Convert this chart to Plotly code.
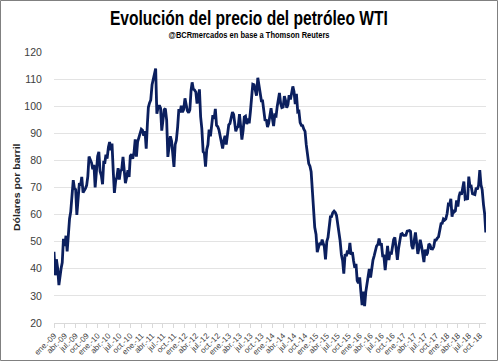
import plotly.graph_objects as go
import pandas as pd

# WTI price (USD/bbl), sampled on days 1, 11, 21 of each month
wti_2009 = [46.3, 37.6, 43.5, 40.1, 34.0, 38.9, 40.0, 42.3, 51.1, 48.4, 52.2, 46.4,
            53.2, 58.5, 61.1, 68.6, 72.7, 69.6, 69.3, 59.9, 65.4, 71.6, 70.6, 73.9,
            68.1, 69.3, 69.7, 70.8, 74.2, 81.4, 79.9, 79.1, 76.7, 78.4, 70.0, 76.7]
wti_2010 = [81.5, 83.2, 76.0, 74.4, 71.2, 79.8, 78.7, 82.1, 80.7, 84.9, 86.8, 83.7,
            86.2, 76.4, 68.0, 72.6, 73.8, 77.1, 72.9, 76.1, 76.5, 81.3, 75.7, 71.6,
            73.9, 76.4, 73.9, 81.6, 82.2, 80.6, 82.9, 87.8, 81.4, 86.8, 88.3, 89.8]
wti_2011 = [91.5, 91.1, 89.1, 90.8, 84.3, 93.6, 99.6, 101.2, 102.3, 107.9, 109.9, 112.3,
            113.9, 97.2, 99.5, 100.3, 99.3, 91.0, 94.9, 98.7, 99.1, 94.9, 81.3, 84.1,
            88.9, 87.2, 80.5, 77.6, 85.8, 87.4, 92.5, 98.9, 97.7, 100.2, 97.8, 98.7]
wti_2012 = [102.9, 100.9, 98.3, 97.6, 98.7, 105.8, 108.8, 106.3, 106.0, 105.2, 101.0, 103.1,
            106.2, 96.1, 91.7, 83.2, 82.7, 77.7, 84.0, 85.8, 91.4, 88.9, 93.4, 96.7,
            95.3, 99.0, 92.9, 92.5, 91.3, 88.7, 87.1, 84.4, 87.4, 89.1, 85.8, 88.7]
wti_2013 = [93.1, 93.6, 96.2, 97.8, 97.0, 92.8, 90.7, 92.1, 92.5, 97.1, 93.5, 87.7,
            91.0, 96.0, 96.3, 93.4, 95.4, 93.7, 97.9, 104.9, 108.1, 107.9, 106.1, 103.9,
            110.5, 107.6, 104.7, 102.0, 102.0, 99.2, 94.6, 95.1, 92.3, 93.6, 97.4, 99.3]
wti_2014 = [95.4, 92.7, 96.7, 96.4, 100.1, 102.2, 104.9, 101.0, 99.5, 99.7, 103.7, 102.1,
            99.4, 100.6, 104.1, 102.5, 104.4, 107.3, 105.3, 100.8, 104.6, 97.9, 98.1, 93.9,
            92.9, 92.8, 91.5, 90.7, 85.8, 81.8, 78.8, 77.9, 75.8, 69.0, 60.0, 55.3]
wti_2015 = [52.7, 46.1, 47.8, 49.6, 48.8, 50.8, 49.6, 48.2, 43.5, 50.1, 51.6, 56.6,
            59.2, 59.3, 60.7, 61.3, 60.8, 59.7, 56.9, 52.7, 50.4, 45.2, 43.1, 38.2,
            45.4, 44.6, 46.7, 45.5, 49.6, 45.2, 46.1, 42.9, 40.4, 41.8, 35.6, 34.7]
wti_2016 = [36.8, 31.4, 26.6, 31.6, 26.2, 31.5, 34.4, 38.5, 39.9, 36.8, 40.4, 43.2,
            44.8, 46.2, 48.4, 49.0, 51.2, 49.0, 49.0, 44.8, 44.8, 39.5, 43.5, 48.5,
            43.2, 46.3, 45.3, 48.8, 50.8, 51.6, 46.7, 43.3, 47.5, 51.1, 52.8, 53.0]
wti_2017 = [52.3, 52.3, 52.4, 53.9, 53.9, 54.1, 53.8, 48.5, 47.3, 50.2, 53.4, 49.6,
            45.5, 47.8, 50.7, 48.4, 46.1, 42.5, 47.1, 45.0, 45.8, 49.2, 48.8, 47.4,
            47.3, 48.1, 50.6, 50.6, 51.3, 51.8, 54.3, 56.7, 56.8, 58.4, 58.0, 58.4]
wti_2018 = [60.4, 63.8, 63.6, 65.8, 59.2, 61.7, 61.0, 61.4, 65.2, 63.0, 66.8, 68.4,
            67.3, 70.7, 72.2, 65.8, 66.1, 65.5, 74.0, 70.4, 70.5, 67.7, 67.6, 67.4,
            69.9, 69.3, 70.8, 76.4, 71.0, 69.2, 63.7, 60.2, 53.4]

tick_labels = ["ene.-09", "abr.-09", "jul.-09", "oct.-09", "ene.-10", "abr.-10", "jul.-10", "oct.-10",
               "ene.-11", "abr.-11", "jul.-11", "oct.-11", "ene.-12", "abr.-12", "jul.-12", "oct.-12",
               "ene.-13", "abr.-13", "jul.-13", "oct.-13", "ene.-14", "abr.-14", "jul.-14", "oct.-14",
               "ene.-15", "abr.-15", "jul.-15", "oct.-15", "ene.-16", "abr.-16", "jul.-16", "oct.-16",
               "ene.-17", "abr.-17", "jul.-17", "oct.-17", "ene.-18", "abr.-18", "jul.-18", "oct.-18"]

values = (wti_2009 + wti_2010 + wti_2011 + wti_2012 + wti_2013 + wti_2014 +
          wti_2015 + wti_2016 + wti_2017 + wti_2018)

dates = []
for m in pd.date_range("2009-01-01", "2018-11-01", freq="MS"):
    for d in (1, 11, 20 if (m.year == 2018 and m.month == 11) else 21):
        dates.append(m + pd.Timedelta(days=d - 1))
dates = dates[:len(values)]
tick_dates = list(pd.date_range("2009-01-01", "2018-10-01", freq="QS"))

W, H = 500, 362
ml, mr, mt, mb = 54, 14, 52, 39
pw, ph = W - ml - mr, H - mt - mb

def px_x(px):
    return (px - ml) / pw

def px_y(py):
    return 1 - (py - mt) / ph

FONT = "Liberation Sans"

fig = go.Figure()
fig.add_trace(go.Scatter(x=dates, y=values, mode="lines",
                         line=dict(color="#0b1f5e", width=2.8), hoverinfo="skip"))

fig.update_layout(
    width=W, height=H,
    margin=dict(l=ml, r=mr, t=mt, b=mb, autoexpand=False),
    paper_bgcolor="white", plot_bgcolor="white",
    showlegend=False,
    font=dict(family=FONT, color="#404040"),
    annotations=[
        dict(text="<b>Evolución del precio del petróleo WTI</b>",
             xref="paper", yref="paper", x=px_x(249), y=px_y(18),
             xanchor="center", yanchor="middle", showarrow=False,
             font=dict(family=FONT, size=19.5, color="black")),
        dict(text="<b>@BCRmercados en base a Thomson Reuters</b>",
             xref="paper", yref="paper", x=px_x(249), y=px_y(35),
             xanchor="center", yanchor="middle", showarrow=False,
             font=dict(family=FONT, size=9.5, color="black")),
        dict(text="<b>Dólares por barril</b>", textangle=-90,
             xref="paper", yref="paper", x=px_x(17), y=px_y(187),
             xanchor="center", yanchor="middle", showarrow=False,
             font=dict(family=FONT, size=10.5, color="#262626")),
    ],
    shapes=[dict(type="rect", xref="paper", yref="paper",
                 x0=px_x(0.5), x1=px_x(497.5), y0=px_y(360.5), y1=px_y(0.5),
                 line=dict(color="#808080", width=1), layer="below")],
)
fig.update_xaxes(type="date", range=["2009-01-01", "2018-11-22"],
                 tickmode="array", tickvals=tick_dates, ticktext=tick_labels,
                 tickangle=-45, tickfont=dict(size=8, color="#404040"),
                 showgrid=False, showline=True, linecolor="#d9d9d9", linewidth=1,
                 ticks="outside", ticklen=4, tickcolor="#d9d9d9", zeroline=False,
                 automargin=False)
fig.update_yaxes(range=[20, 120], dtick=10, tickfont=dict(size=10.5, color="#404040"),
                 showgrid=True, gridcolor="#e3e3e3", gridwidth=1, zeroline=False,
                 ticks="outside", ticklen=9, tickcolor="rgba(0,0,0,0)",
                 showline=False, automargin=False)

# condense the bold header texts (the reference uses a narrow face)
post = """
document.body.style.margin='0';
var scales=[0.80,0.79,0.82];
var t=document.querySelectorAll('.annotation-text');
t.forEach(function(el,i){
  el.style.transformBox='fill-box';
  el.style.transformOrigin='center';
  el.style.transform=(i==2?'scaleY(':'scaleX(')+scales[i]+')';
});
"""
fig.write_html("out.html", post_script=post, config={"displayModeBar": False})
